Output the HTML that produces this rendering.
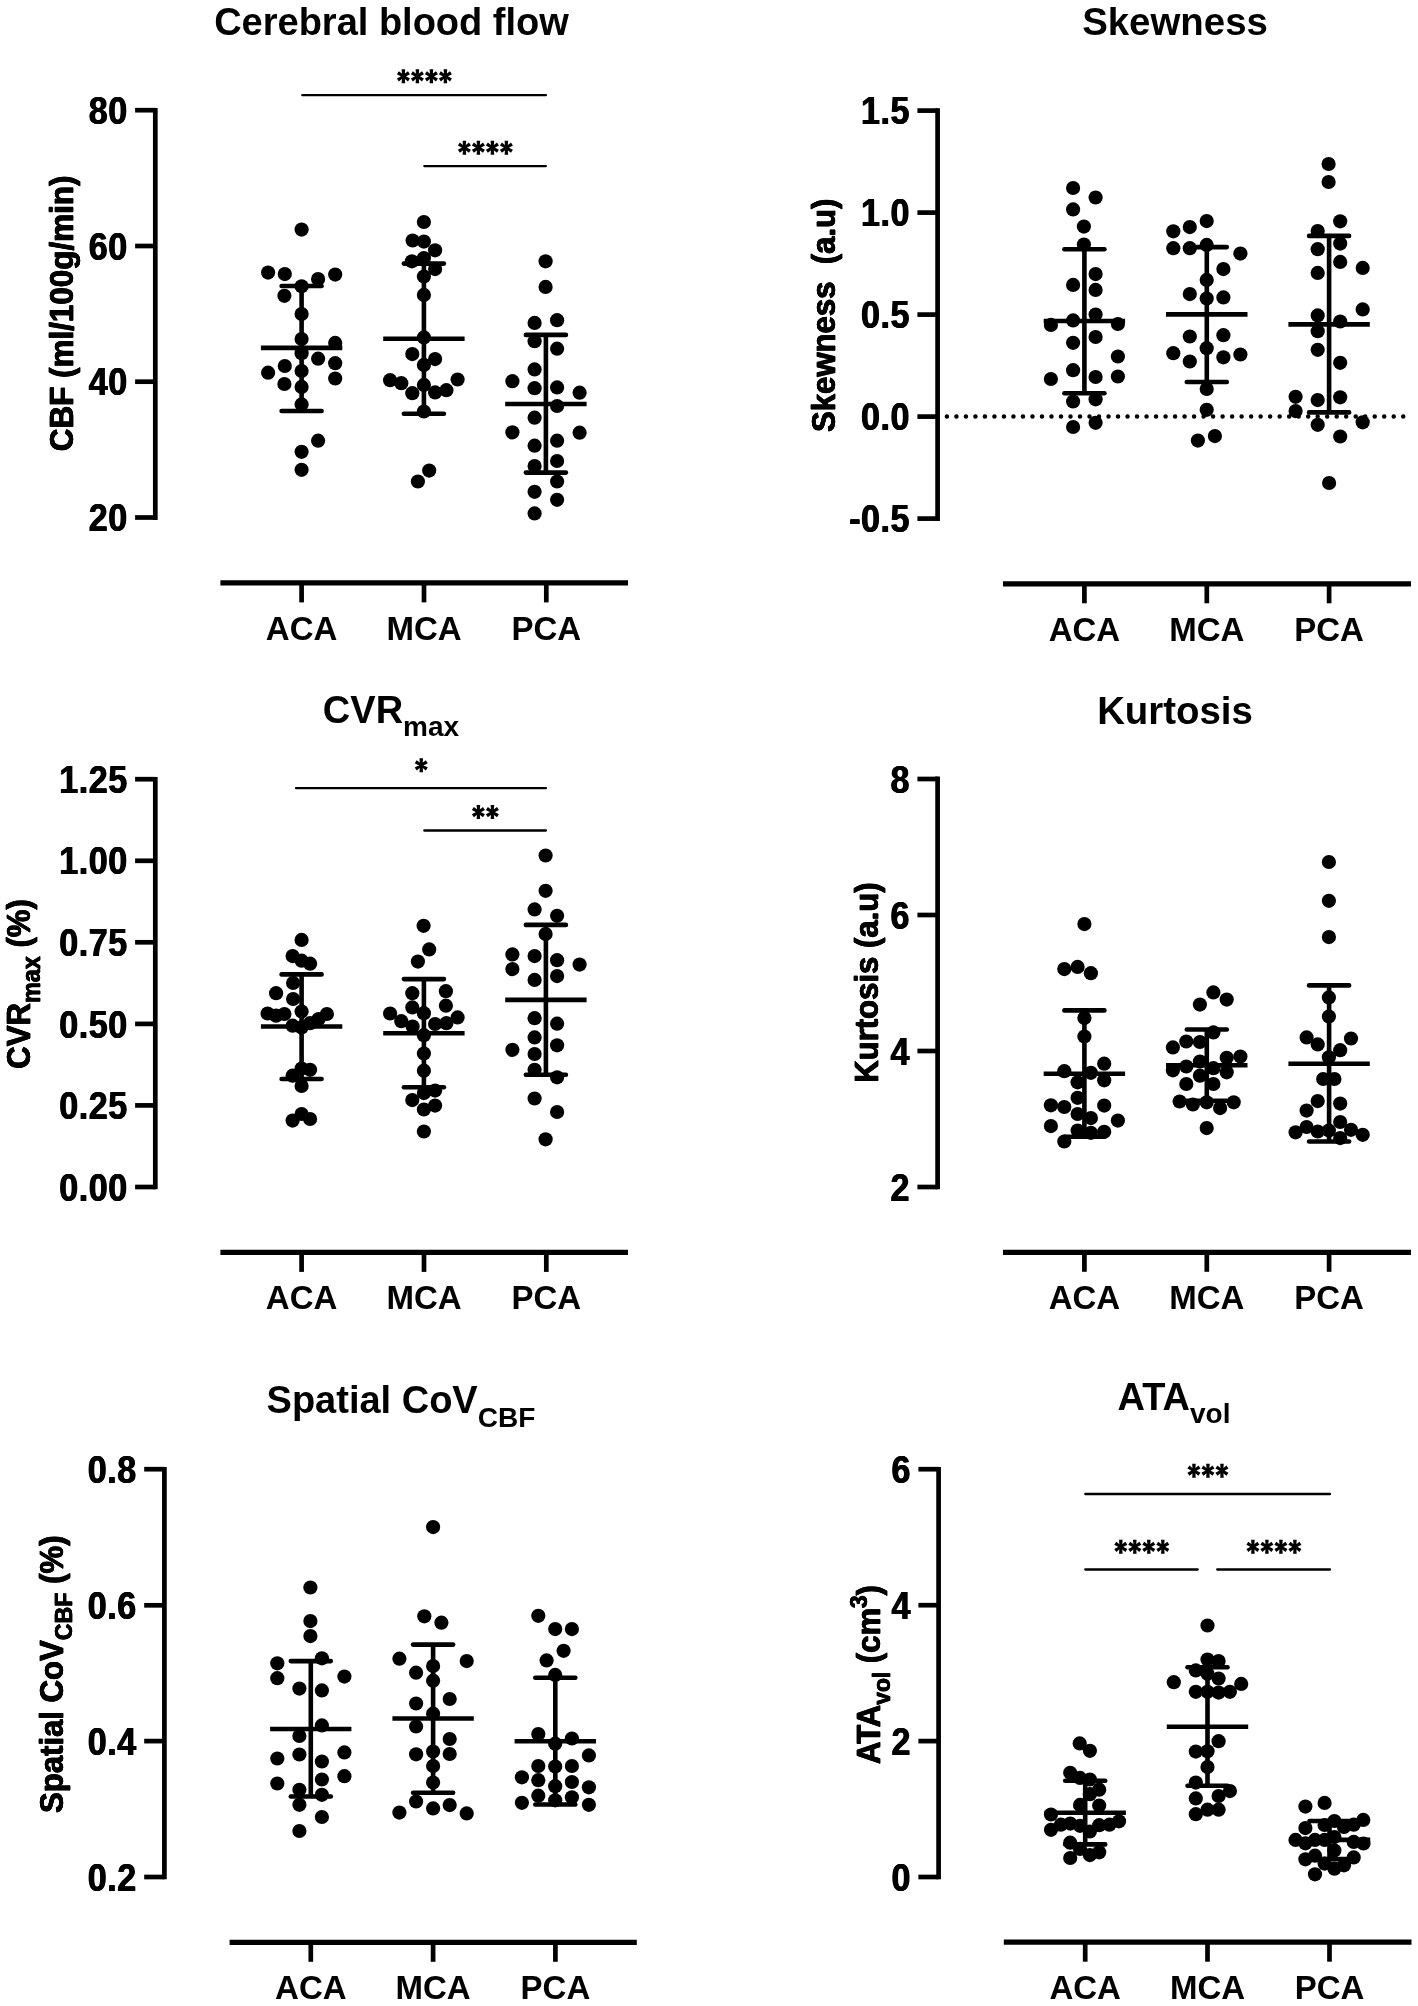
<!DOCTYPE html>
<html><head><meta charset="utf-8"><title>Figure</title>
<style>html,body{margin:0;padding:0;background:#fff;}svg{display:block;will-change:transform;}</style>
</head><body>
<svg width="1418" height="2006" viewBox="0 0 1418 2006">
<rect width="1418" height="2006" fill="#fff"/>
<text x="391.5" y="35" font-size="38" text-anchor="middle" font-family="Liberation Sans, sans-serif" font-weight="bold" >Cerebral blood flow</text>
<g stroke="#000" stroke-width="4.7" fill="none">
<line x1="155.3" y1="107.9" x2="155.3" y2="519.9"/>
<line x1="135.1" y1="110.2" x2="155.3" y2="110.2"/>
<line x1="135.1" y1="246.0" x2="155.3" y2="246.0"/>
<line x1="135.1" y1="381.7" x2="155.3" y2="381.7"/>
<line x1="135.1" y1="517.5" x2="155.3" y2="517.5"/>
</g>
<g transform="translate(127.70,123.8) scale(0.885,1)" font-size="38.5" text-anchor="end" letter-spacing="0.6" font-family="Liberation Sans, sans-serif" font-weight="bold"><text x="-0.56">80</text><text x="0.00">80</text><text x="0.56">80</text></g>
<g transform="translate(127.70,259.6) scale(0.885,1)" font-size="38.5" text-anchor="end" letter-spacing="0.6" font-family="Liberation Sans, sans-serif" font-weight="bold"><text x="-0.56">60</text><text x="0.00">60</text><text x="0.56">60</text></g>
<g transform="translate(127.70,395.3) scale(0.885,1)" font-size="38.5" text-anchor="end" letter-spacing="0.6" font-family="Liberation Sans, sans-serif" font-weight="bold"><text x="-0.56">40</text><text x="0.00">40</text><text x="0.56">40</text></g>
<g transform="translate(127.70,531.1) scale(0.885,1)" font-size="38.5" text-anchor="end" letter-spacing="0.6" font-family="Liberation Sans, sans-serif" font-weight="bold"><text x="-0.56">20</text><text x="0.00">20</text><text x="0.56">20</text></g>
<g stroke="#000" stroke-width="5.2" fill="none">
<line x1="220.4" y1="582.9" x2="628" y2="582.9"/>
<line x1="301.6" y1="582.9" x2="301.6" y2="602.4" stroke-width="4.7"/>
<line x1="424" y1="582.9" x2="424" y2="602.4" stroke-width="4.7"/>
<line x1="546.3" y1="582.9" x2="546.3" y2="602.4" stroke-width="4.7"/>
</g>
<text x="301.6" y="639.6" font-size="33" text-anchor="middle" font-family="Liberation Sans, sans-serif" font-weight="bold">ACA</text>
<text x="424" y="639.6" font-size="33" text-anchor="middle" font-family="Liberation Sans, sans-serif" font-weight="bold">MCA</text>
<text x="546.3" y="639.6" font-size="33" text-anchor="middle" font-family="Liberation Sans, sans-serif" font-weight="bold">PCA</text>
<g transform="translate(72.5,313.4) rotate(-90) scale(0.9390,1)" font-size="33.46" text-anchor="middle" stroke="#000" stroke-width="0.35" stroke-linejoin="round" font-family="Liberation Sans, sans-serif" font-weight="bold" ><text x="-0.32">CBF (ml/100g/min)</text><text x="0.00">CBF (ml/100g/min)</text><text x="0.32">CBF (ml/100g/min)</text></g>
<line x1="302.3" y1="95.2" x2="545.9" y2="95.2" stroke="#000" stroke-width="2.3" stroke-linecap="round"/>
<path d="M402.10 75.50L401.60 69.30L405.20 69.30L404.70 75.50ZM404.70 77.10L405.20 83.30L401.60 83.30L402.10 77.10ZM403.36 74.77L407.95 71.20L409.92 74.21L404.78 76.95ZM402.02 76.95L396.88 74.21L398.85 71.20L403.44 74.77ZM404.78 75.65L409.92 78.39L407.95 81.40L403.36 77.83ZM403.44 77.83L398.85 81.40L396.88 78.39L402.02 75.65Z" fill="#000"/><circle cx="403.40" cy="76.30" r="2.2" fill="#000"/>
<path d="M416.10 75.50L415.60 69.30L419.20 69.30L418.70 75.50ZM418.70 77.10L419.20 83.30L415.60 83.30L416.10 77.10ZM417.36 74.77L421.95 71.20L423.92 74.21L418.78 76.95ZM416.02 76.95L410.88 74.21L412.85 71.20L417.44 74.77ZM418.78 75.65L423.92 78.39L421.95 81.40L417.36 77.83ZM417.44 77.83L412.85 81.40L410.88 78.39L416.02 75.65Z" fill="#000"/><circle cx="417.40" cy="76.30" r="2.2" fill="#000"/>
<path d="M430.10 75.50L429.60 69.30L433.20 69.30L432.70 75.50ZM432.70 77.10L433.20 83.30L429.60 83.30L430.10 77.10ZM431.36 74.77L435.95 71.20L437.92 74.21L432.78 76.95ZM430.02 76.95L424.88 74.21L426.85 71.20L431.44 74.77ZM432.78 75.65L437.92 78.39L435.95 81.40L431.36 77.83ZM431.44 77.83L426.85 81.40L424.88 78.39L430.02 75.65Z" fill="#000"/><circle cx="431.40" cy="76.30" r="2.2" fill="#000"/>
<path d="M444.10 75.50L443.60 69.30L447.20 69.30L446.70 75.50ZM446.70 77.10L447.20 83.30L443.60 83.30L444.10 77.10ZM445.36 74.77L449.95 71.20L451.92 74.21L446.78 76.95ZM444.02 76.95L438.88 74.21L440.85 71.20L445.44 74.77ZM446.78 75.65L451.92 78.39L449.95 81.40L445.36 77.83ZM445.44 77.83L440.85 81.40L438.88 78.39L444.02 75.65Z" fill="#000"/><circle cx="445.40" cy="76.30" r="2.2" fill="#000"/>
<line x1="424.3" y1="166.1" x2="545.9" y2="166.1" stroke="#000" stroke-width="2.3" stroke-linecap="round"/>
<path d="M463.10 146.90L462.60 140.70L466.20 140.70L465.70 146.90ZM465.70 148.50L466.20 154.70L462.60 154.70L463.10 148.50ZM464.36 146.17L468.95 142.60L470.92 145.61L465.78 148.35ZM463.02 148.35L457.88 145.61L459.85 142.60L464.44 146.17ZM465.78 147.05L470.92 149.79L468.95 152.80L464.36 149.23ZM464.44 149.23L459.85 152.80L457.88 149.79L463.02 147.05Z" fill="#000"/><circle cx="464.40" cy="147.70" r="2.2" fill="#000"/>
<path d="M477.10 146.90L476.60 140.70L480.20 140.70L479.70 146.90ZM479.70 148.50L480.20 154.70L476.60 154.70L477.10 148.50ZM478.36 146.17L482.95 142.60L484.92 145.61L479.78 148.35ZM477.02 148.35L471.88 145.61L473.85 142.60L478.44 146.17ZM479.78 147.05L484.92 149.79L482.95 152.80L478.36 149.23ZM478.44 149.23L473.85 152.80L471.88 149.79L477.02 147.05Z" fill="#000"/><circle cx="478.40" cy="147.70" r="2.2" fill="#000"/>
<path d="M491.10 146.90L490.60 140.70L494.20 140.70L493.70 146.90ZM493.70 148.50L494.20 154.70L490.60 154.70L491.10 148.50ZM492.36 146.17L496.95 142.60L498.92 145.61L493.78 148.35ZM491.02 148.35L485.88 145.61L487.85 142.60L492.44 146.17ZM493.78 147.05L498.92 149.79L496.95 152.80L492.36 149.23ZM492.44 149.23L487.85 152.80L485.88 149.79L491.02 147.05Z" fill="#000"/><circle cx="492.40" cy="147.70" r="2.2" fill="#000"/>
<path d="M505.10 146.90L504.60 140.70L508.20 140.70L507.70 146.90ZM507.70 148.50L508.20 154.70L504.60 154.70L505.10 148.50ZM506.36 146.17L510.95 142.60L512.92 145.61L507.78 148.35ZM505.02 148.35L499.88 145.61L501.85 142.60L506.44 146.17ZM507.78 147.05L512.92 149.79L510.95 152.80L506.36 149.23ZM506.44 149.23L501.85 152.80L499.88 149.79L505.02 147.05Z" fill="#000"/><circle cx="506.40" cy="147.70" r="2.2" fill="#000"/>
<g stroke="#000" stroke-width="4.6" fill="none">
<line x1="260.9" y1="347.9" x2="342.3" y2="347.9"/>
<line x1="301.6" y1="286.0" x2="301.6" y2="411.0"/>
<line x1="281.6" y1="286.0" x2="321.6" y2="286.0" stroke-linecap="round"/>
<line x1="281.6" y1="411.0" x2="321.6" y2="411.0" stroke-linecap="round"/>
</g>
<g fill="#000">
<circle cx="301.6" cy="229.6" r="7.1"/>
<circle cx="268.1" cy="272.6" r="7.1"/>
<circle cx="284.8" cy="274.1" r="7.1"/>
<circle cx="318.1" cy="279.1" r="7.1"/>
<circle cx="335.2" cy="274.6" r="7.1"/>
<circle cx="301.6" cy="286.3" r="7.1"/>
<circle cx="284.4" cy="295.8" r="7.1"/>
<circle cx="301.6" cy="314.1" r="7.1"/>
<circle cx="301.6" cy="339.1" r="7.1"/>
<circle cx="335.2" cy="342.9" r="7.1"/>
<circle cx="301.6" cy="353.2" r="7.1"/>
<circle cx="318.1" cy="358.7" r="7.1"/>
<circle cx="335.2" cy="363.2" r="7.1"/>
<circle cx="284.8" cy="366.0" r="7.1"/>
<circle cx="301.6" cy="371.0" r="7.1"/>
<circle cx="268.1" cy="372.7" r="7.1"/>
<circle cx="335.2" cy="378.5" r="7.1"/>
<circle cx="284.4" cy="384.0" r="7.1"/>
<circle cx="301.6" cy="386.9" r="7.1"/>
<circle cx="301.6" cy="404.4" r="7.1"/>
<circle cx="318.1" cy="440.7" r="7.1"/>
<circle cx="301.6" cy="451.8" r="7.1"/>
<circle cx="301.6" cy="469.8" r="7.1"/>
</g>
<g stroke="#000" stroke-width="4.6" fill="none">
<line x1="383.2" y1="338.7" x2="464.6" y2="338.7"/>
<line x1="423.9" y1="263.6" x2="423.9" y2="413.7"/>
<line x1="403.9" y1="263.6" x2="443.9" y2="263.6" stroke-linecap="round"/>
<line x1="403.9" y1="413.7" x2="443.9" y2="413.7" stroke-linecap="round"/>
</g>
<g fill="#000">
<circle cx="423.9" cy="222.0" r="7.1"/>
<circle cx="412.6" cy="240.5" r="7.1"/>
<circle cx="423.9" cy="241.6" r="7.1"/>
<circle cx="435.1" cy="250.3" r="7.1"/>
<circle cx="423.9" cy="258.0" r="7.1"/>
<circle cx="411.9" cy="261.3" r="7.1"/>
<circle cx="435.1" cy="269.1" r="7.1"/>
<circle cx="423.9" cy="276.6" r="7.1"/>
<circle cx="423.9" cy="294.9" r="7.1"/>
<circle cx="423.9" cy="337.4" r="7.1"/>
<circle cx="412.3" cy="354.1" r="7.1"/>
<circle cx="435.1" cy="359.1" r="7.1"/>
<circle cx="423.9" cy="364.9" r="7.1"/>
<circle cx="390.1" cy="380.2" r="7.1"/>
<circle cx="401.3" cy="383.2" r="7.1"/>
<circle cx="457.6" cy="379.5" r="7.1"/>
<circle cx="423.9" cy="384.9" r="7.1"/>
<circle cx="446.4" cy="390.2" r="7.1"/>
<circle cx="435.1" cy="392.4" r="7.1"/>
<circle cx="412.3" cy="393.2" r="7.1"/>
<circle cx="423.9" cy="411.5" r="7.1"/>
<circle cx="429.2" cy="470.6" r="7.1"/>
<circle cx="417.9" cy="481.5" r="7.1"/>
</g>
<g stroke="#000" stroke-width="4.6" fill="none">
<line x1="505.2" y1="404.0" x2="586.6" y2="404.0"/>
<line x1="545.9" y1="334.9" x2="545.9" y2="472.6"/>
<line x1="525.9" y1="334.9" x2="565.9" y2="334.9" stroke-linecap="round"/>
<line x1="525.9" y1="472.6" x2="565.9" y2="472.6" stroke-linecap="round"/>
</g>
<g fill="#000">
<circle cx="545.6" cy="261.3" r="7.1"/>
<circle cx="545.6" cy="286.9" r="7.1"/>
<circle cx="534.6" cy="322.9" r="7.1"/>
<circle cx="557.1" cy="320.2" r="7.1"/>
<circle cx="534.6" cy="341.2" r="7.1"/>
<circle cx="557.1" cy="348.7" r="7.1"/>
<circle cx="534.6" cy="369.4" r="7.1"/>
<circle cx="512.4" cy="381.2" r="7.1"/>
<circle cx="534.6" cy="388.2" r="7.1"/>
<circle cx="557.1" cy="387.4" r="7.1"/>
<circle cx="579.6" cy="392.7" r="7.1"/>
<circle cx="557.1" cy="406.0" r="7.1"/>
<circle cx="534.6" cy="417.7" r="7.1"/>
<circle cx="512.4" cy="432.3" r="7.1"/>
<circle cx="579.6" cy="432.7" r="7.1"/>
<circle cx="557.1" cy="440.7" r="7.1"/>
<circle cx="534.6" cy="445.7" r="7.1"/>
<circle cx="557.1" cy="461.0" r="7.1"/>
<circle cx="534.6" cy="466.0" r="7.1"/>
<circle cx="557.1" cy="481.5" r="7.1"/>
<circle cx="534.6" cy="491.8" r="7.1"/>
<circle cx="557.1" cy="499.8" r="7.1"/>
<circle cx="534.6" cy="513.4" r="7.1"/>
</g>
<text x="1175" y="35" font-size="38.4" text-anchor="middle" font-family="Liberation Sans, sans-serif" font-weight="bold" >Skewness</text>
<g stroke="#000" stroke-width="4.7" fill="none">
<line x1="937.6" y1="108.2" x2="937.6" y2="521.0"/>
<line x1="917.4" y1="110.6" x2="937.6" y2="110.6"/>
<line x1="917.4" y1="212.6" x2="937.6" y2="212.6"/>
<line x1="917.4" y1="314.6" x2="937.6" y2="314.6"/>
<line x1="917.4" y1="416.6" x2="937.6" y2="416.6"/>
<line x1="917.4" y1="518.6" x2="937.6" y2="518.6"/>
</g>
<g transform="translate(910.00,124.2) scale(0.885,1)" font-size="38.5" text-anchor="end" letter-spacing="0.6" font-family="Liberation Sans, sans-serif" font-weight="bold"><text x="-0.56">1.5</text><text x="0.00">1.5</text><text x="0.56">1.5</text></g>
<g transform="translate(910.00,226.2) scale(0.885,1)" font-size="38.5" text-anchor="end" letter-spacing="0.6" font-family="Liberation Sans, sans-serif" font-weight="bold"><text x="-0.56">1.0</text><text x="0.00">1.0</text><text x="0.56">1.0</text></g>
<g transform="translate(910.00,328.2) scale(0.885,1)" font-size="38.5" text-anchor="end" letter-spacing="0.6" font-family="Liberation Sans, sans-serif" font-weight="bold"><text x="-0.56">0.5</text><text x="0.00">0.5</text><text x="0.56">0.5</text></g>
<g transform="translate(910.00,430.2) scale(0.885,1)" font-size="38.5" text-anchor="end" letter-spacing="0.6" font-family="Liberation Sans, sans-serif" font-weight="bold"><text x="-0.56">0.0</text><text x="0.00">0.0</text><text x="0.56">0.0</text></g>
<g transform="translate(910.00,532.2) scale(0.885,1)" font-size="38.5" text-anchor="end" letter-spacing="0.6" font-family="Liberation Sans, sans-serif" font-weight="bold"><text x="-0.56">-0.5</text><text x="0.00">-0.5</text><text x="0.56">-0.5</text></g>
<g stroke="#000" stroke-width="5.2" fill="none">
<line x1="1003" y1="583.8" x2="1411" y2="583.8"/>
<line x1="1084.4" y1="583.8" x2="1084.4" y2="603.3" stroke-width="4.7"/>
<line x1="1206.8" y1="583.8" x2="1206.8" y2="603.3" stroke-width="4.7"/>
<line x1="1329.1" y1="583.8" x2="1329.1" y2="603.3" stroke-width="4.7"/>
</g>
<text x="1084.4" y="640.5" font-size="33" text-anchor="middle" font-family="Liberation Sans, sans-serif" font-weight="bold">ACA</text>
<text x="1206.8" y="640.5" font-size="33" text-anchor="middle" font-family="Liberation Sans, sans-serif" font-weight="bold">MCA</text>
<text x="1329.1" y="640.5" font-size="33" text-anchor="middle" font-family="Liberation Sans, sans-serif" font-weight="bold">PCA</text>
<g transform="translate(835,315.3) rotate(-90) scale(0.9390,1)" font-size="33.14" text-anchor="middle" stroke="#000" stroke-width="0.35" stroke-linejoin="round" font-family="Liberation Sans, sans-serif" font-weight="bold" ><text x="-0.32">Skewness&#160;&#160;(a.u)</text><text x="0.00">Skewness&#160;&#160;(a.u)</text><text x="0.32">Skewness&#160;&#160;(a.u)</text></g>
<line x1="946.9" y1="416.6" x2="1403.4" y2="416.6" stroke="#000" stroke-width="4.5" stroke-linecap="round" stroke-dasharray="0 9.507"/>
<g stroke="#000" stroke-width="4.6" fill="none">
<line x1="1043.7" y1="321.0" x2="1125.1" y2="321.0"/>
<line x1="1084.4" y1="249.3" x2="1084.4" y2="393.2"/>
<line x1="1064.4" y1="249.3" x2="1104.4" y2="249.3" stroke-linecap="round"/>
<line x1="1064.4" y1="393.2" x2="1104.4" y2="393.2" stroke-linecap="round"/>
</g>
<g fill="#000">
<circle cx="1073.1" cy="188.0" r="7.1"/>
<circle cx="1095.6" cy="197.5" r="7.1"/>
<circle cx="1073.1" cy="209.4" r="7.1"/>
<circle cx="1083.9" cy="226.6" r="7.1"/>
<circle cx="1083.9" cy="244.6" r="7.1"/>
<circle cx="1095.6" cy="274.1" r="7.1"/>
<circle cx="1073.1" cy="284.9" r="7.1"/>
<circle cx="1095.6" cy="289.9" r="7.1"/>
<circle cx="1095.6" cy="314.5" r="7.1"/>
<circle cx="1073.1" cy="320.4" r="7.1"/>
<circle cx="1050.9" cy="324.9" r="7.1"/>
<circle cx="1117.9" cy="324.0" r="7.1"/>
<circle cx="1095.6" cy="337.0" r="7.1"/>
<circle cx="1073.1" cy="342.8" r="7.1"/>
<circle cx="1117.9" cy="356.5" r="7.1"/>
<circle cx="1073.1" cy="370.2" r="7.1"/>
<circle cx="1095.6" cy="377.0" r="7.1"/>
<circle cx="1117.9" cy="376.5" r="7.1"/>
<circle cx="1050.9" cy="379.0" r="7.1"/>
<circle cx="1073.1" cy="401.5" r="7.1"/>
<circle cx="1095.6" cy="399.3" r="7.1"/>
<circle cx="1073.1" cy="427.0" r="7.1"/>
<circle cx="1095.6" cy="422.8" r="7.1"/>
</g>
<g stroke="#000" stroke-width="4.6" fill="none">
<line x1="1166.0" y1="314.4" x2="1247.5" y2="314.4"/>
<line x1="1206.8" y1="247.1" x2="1206.8" y2="382.0"/>
<line x1="1186.8" y1="247.1" x2="1226.8" y2="247.1" stroke-linecap="round"/>
<line x1="1186.8" y1="382.0" x2="1226.8" y2="382.0" stroke-linecap="round"/>
</g>
<g fill="#000">
<circle cx="1206.7" cy="221.1" r="7.1"/>
<circle cx="1189.8" cy="227.1" r="7.1"/>
<circle cx="1173.3" cy="231.3" r="7.1"/>
<circle cx="1206.7" cy="244.9" r="7.1"/>
<circle cx="1189.8" cy="248.2" r="7.1"/>
<circle cx="1173.3" cy="248.2" r="7.1"/>
<circle cx="1240.4" cy="253.6" r="7.1"/>
<circle cx="1223.4" cy="269.1" r="7.1"/>
<circle cx="1206.7" cy="279.9" r="7.1"/>
<circle cx="1189.8" cy="294.1" r="7.1"/>
<circle cx="1223.4" cy="297.4" r="7.1"/>
<circle cx="1206.7" cy="298.5" r="7.1"/>
<circle cx="1189.8" cy="336.5" r="7.1"/>
<circle cx="1223.4" cy="335.2" r="7.1"/>
<circle cx="1206.7" cy="348.2" r="7.1"/>
<circle cx="1173.3" cy="353.2" r="7.1"/>
<circle cx="1240.4" cy="354.5" r="7.1"/>
<circle cx="1223.4" cy="357.3" r="7.1"/>
<circle cx="1189.8" cy="361.5" r="7.1"/>
<circle cx="1206.7" cy="389.0" r="7.1"/>
<circle cx="1206.7" cy="409.8" r="7.1"/>
<circle cx="1214.9" cy="436.1" r="7.1"/>
<circle cx="1197.9" cy="440.6" r="7.1"/>
</g>
<g stroke="#000" stroke-width="4.6" fill="none">
<line x1="1288.4" y1="324.4" x2="1369.8" y2="324.4"/>
<line x1="1329.1" y1="235.9" x2="1329.1" y2="412.4"/>
<line x1="1309.1" y1="235.9" x2="1349.1" y2="235.9" stroke-linecap="round"/>
<line x1="1309.1" y1="412.4" x2="1349.1" y2="412.4" stroke-linecap="round"/>
</g>
<g fill="#000">
<circle cx="1328.6" cy="164.0" r="7.1"/>
<circle cx="1328.6" cy="182.0" r="7.1"/>
<circle cx="1340.2" cy="221.3" r="7.1"/>
<circle cx="1317.7" cy="231.1" r="7.1"/>
<circle cx="1340.2" cy="243.6" r="7.1"/>
<circle cx="1317.7" cy="249.2" r="7.1"/>
<circle cx="1340.2" cy="261.9" r="7.1"/>
<circle cx="1362.7" cy="267.9" r="7.1"/>
<circle cx="1317.7" cy="272.9" r="7.1"/>
<circle cx="1362.7" cy="309.4" r="7.1"/>
<circle cx="1317.7" cy="315.4" r="7.1"/>
<circle cx="1340.2" cy="321.5" r="7.1"/>
<circle cx="1317.7" cy="331.2" r="7.1"/>
<circle cx="1317.7" cy="349.8" r="7.1"/>
<circle cx="1340.2" cy="362.8" r="7.1"/>
<circle cx="1295.6" cy="396.8" r="7.1"/>
<circle cx="1340.2" cy="397.3" r="7.1"/>
<circle cx="1317.7" cy="400.1" r="7.1"/>
<circle cx="1295.6" cy="411.1" r="7.1"/>
<circle cx="1317.7" cy="424.8" r="7.1"/>
<circle cx="1362.7" cy="422.3" r="7.1"/>
<circle cx="1340.2" cy="436.5" r="7.1"/>
<circle cx="1329.1" cy="483" r="7.1"/>
</g>
<text x="391" y="722.5" text-anchor="middle" font-family="Liberation Sans, sans-serif" font-weight="bold"><tspan font-size="38" dy="0.00">CVR</tspan><tspan font-size="28" dy="13.40">max</tspan></text>
<g transform="translate(30.4,1068.7) rotate(-90) scale(0.9390,1)" text-anchor="start" stroke="#000" stroke-width="0.35" stroke-linejoin="round" font-family="Liberation Sans, sans-serif" font-weight="bold"><text x="-0.32"><tspan font-size="33.14" dy="0.00">CVR</tspan><tspan font-size="24.94" dy="10.00">max</tspan><tspan font-size="33.14" dy="-10.00"> (%)</tspan></text><text x="0.00"><tspan font-size="33.14" dy="0.00">CVR</tspan><tspan font-size="24.94" dy="10.00">max</tspan><tspan font-size="33.14" dy="-10.00"> (%)</tspan></text><text x="0.32"><tspan font-size="33.14" dy="0.00">CVR</tspan><tspan font-size="24.94" dy="10.00">max</tspan><tspan font-size="33.14" dy="-10.00"> (%)</tspan></text></g>
<g stroke="#000" stroke-width="4.7" fill="none">
<line x1="155.3" y1="776.9" x2="155.3" y2="1189.3"/>
<line x1="135.1" y1="779.2" x2="155.3" y2="779.2"/>
<line x1="135.1" y1="860.8" x2="155.3" y2="860.8"/>
<line x1="135.1" y1="942.3" x2="155.3" y2="942.3"/>
<line x1="135.1" y1="1023.9" x2="155.3" y2="1023.9"/>
<line x1="135.1" y1="1105.4" x2="155.3" y2="1105.4"/>
<line x1="135.1" y1="1187.0" x2="155.3" y2="1187.0"/>
</g>
<g transform="translate(127.70,792.8) scale(0.885,1)" font-size="38.5" text-anchor="end" letter-spacing="0.6" font-family="Liberation Sans, sans-serif" font-weight="bold"><text x="-0.56">1.25</text><text x="0.00">1.25</text><text x="0.56">1.25</text></g>
<g transform="translate(127.70,874.4) scale(0.885,1)" font-size="38.5" text-anchor="end" letter-spacing="0.6" font-family="Liberation Sans, sans-serif" font-weight="bold"><text x="-0.56">1.00</text><text x="0.00">1.00</text><text x="0.56">1.00</text></g>
<g transform="translate(127.70,955.9) scale(0.885,1)" font-size="38.5" text-anchor="end" letter-spacing="0.6" font-family="Liberation Sans, sans-serif" font-weight="bold"><text x="-0.56">0.75</text><text x="0.00">0.75</text><text x="0.56">0.75</text></g>
<g transform="translate(127.70,1037.5) scale(0.885,1)" font-size="38.5" text-anchor="end" letter-spacing="0.6" font-family="Liberation Sans, sans-serif" font-weight="bold"><text x="-0.56">0.50</text><text x="0.00">0.50</text><text x="0.56">0.50</text></g>
<g transform="translate(127.70,1119.0) scale(0.885,1)" font-size="38.5" text-anchor="end" letter-spacing="0.6" font-family="Liberation Sans, sans-serif" font-weight="bold"><text x="-0.56">0.25</text><text x="0.00">0.25</text><text x="0.56">0.25</text></g>
<g transform="translate(127.70,1200.6) scale(0.885,1)" font-size="38.5" text-anchor="end" letter-spacing="0.6" font-family="Liberation Sans, sans-serif" font-weight="bold"><text x="-0.56">0.00</text><text x="0.00">0.00</text><text x="0.56">0.00</text></g>
<g stroke="#000" stroke-width="5.2" fill="none">
<line x1="220.4" y1="1252.4" x2="628" y2="1252.4"/>
<line x1="301.6" y1="1252.4" x2="301.6" y2="1271.9" stroke-width="4.7"/>
<line x1="424" y1="1252.4" x2="424" y2="1271.9" stroke-width="4.7"/>
<line x1="546.3" y1="1252.4" x2="546.3" y2="1271.9" stroke-width="4.7"/>
</g>
<text x="301.6" y="1309.1" font-size="33" text-anchor="middle" font-family="Liberation Sans, sans-serif" font-weight="bold">ACA</text>
<text x="424" y="1309.1" font-size="33" text-anchor="middle" font-family="Liberation Sans, sans-serif" font-weight="bold">MCA</text>
<text x="546.3" y="1309.1" font-size="33" text-anchor="middle" font-family="Liberation Sans, sans-serif" font-weight="bold">PCA</text>
<line x1="296.0" y1="788.2" x2="545.9" y2="788.2" stroke="#000" stroke-width="2.3" stroke-linecap="round"/>
<path d="M419.95 764.50L419.45 758.30L423.05 758.30L422.55 764.50ZM422.55 766.10L423.05 772.30L419.45 772.30L419.95 766.10ZM421.21 763.77L425.80 760.20L427.77 763.21L422.63 765.95ZM419.87 765.95L414.73 763.21L416.70 760.20L421.29 763.77ZM422.63 764.65L427.77 767.39L425.80 770.40L421.21 766.83ZM421.29 766.83L416.70 770.40L414.73 767.39L419.87 764.65Z" fill="#000"/><circle cx="421.25" cy="765.30" r="2.2" fill="#000"/>
<line x1="424.3" y1="830.5" x2="545.9" y2="830.5" stroke="#000" stroke-width="2.3" stroke-linecap="round"/>
<path d="M477.10 811.30L476.60 805.10L480.20 805.10L479.70 811.30ZM479.70 812.90L480.20 819.10L476.60 819.10L477.10 812.90ZM478.36 810.57L482.95 807.00L484.92 810.01L479.78 812.75ZM477.02 812.75L471.88 810.01L473.85 807.00L478.44 810.57ZM479.78 811.45L484.92 814.19L482.95 817.20L478.36 813.63ZM478.44 813.63L473.85 817.20L471.88 814.19L477.02 811.45Z" fill="#000"/><circle cx="478.40" cy="812.10" r="2.2" fill="#000"/>
<path d="M491.10 811.30L490.60 805.10L494.20 805.10L493.70 811.30ZM493.70 812.90L494.20 819.10L490.60 819.10L491.10 812.90ZM492.36 810.57L496.95 807.00L498.92 810.01L493.78 812.75ZM491.02 812.75L485.88 810.01L487.85 807.00L492.44 810.57ZM493.78 811.45L498.92 814.19L496.95 817.20L492.36 813.63ZM492.44 813.63L487.85 817.20L485.88 814.19L491.02 811.45Z" fill="#000"/><circle cx="492.40" cy="812.10" r="2.2" fill="#000"/>
<g stroke="#000" stroke-width="4.6" fill="none">
<line x1="260.9" y1="1026.5" x2="342.3" y2="1026.5"/>
<line x1="301.6" y1="974.4" x2="301.6" y2="1079.0"/>
<line x1="281.6" y1="974.4" x2="321.6" y2="974.4" stroke-linecap="round"/>
<line x1="281.6" y1="1079.0" x2="321.6" y2="1079.0" stroke-linecap="round"/>
</g>
<g fill="#000">
<circle cx="301.6" cy="939.9" r="7.1"/>
<circle cx="292.6" cy="956.1" r="7.1"/>
<circle cx="301.6" cy="960.7" r="7.1"/>
<circle cx="310.1" cy="963.7" r="7.1"/>
<circle cx="293.1" cy="982.9" r="7.1"/>
<circle cx="276.1" cy="993.2" r="7.1"/>
<circle cx="293.1" cy="999.0" r="7.1"/>
<circle cx="301.6" cy="1011.5" r="7.1"/>
<circle cx="267.6" cy="1013.5" r="7.1"/>
<circle cx="276.1" cy="1015.7" r="7.1"/>
<circle cx="284.4" cy="1014.0" r="7.1"/>
<circle cx="326.9" cy="1014.0" r="7.1"/>
<circle cx="318.6" cy="1019.0" r="7.1"/>
<circle cx="310.1" cy="1023.2" r="7.1"/>
<circle cx="292.6" cy="1025.7" r="7.1"/>
<circle cx="301.6" cy="1027.4" r="7.1"/>
<circle cx="301.6" cy="1068.5" r="7.1"/>
<circle cx="310.1" cy="1069.8" r="7.1"/>
<circle cx="292.6" cy="1075.7" r="7.1"/>
<circle cx="301.6" cy="1086.0" r="7.1"/>
<circle cx="301.6" cy="1114.0" r="7.1"/>
<circle cx="292.6" cy="1120.6" r="7.1"/>
<circle cx="310.1" cy="1119.0" r="7.1"/>
</g>
<g stroke="#000" stroke-width="4.6" fill="none">
<line x1="383.2" y1="1033.2" x2="464.6" y2="1033.2"/>
<line x1="423.9" y1="979.1" x2="423.9" y2="1087.3"/>
<line x1="403.9" y1="979.1" x2="443.9" y2="979.1" stroke-linecap="round"/>
<line x1="403.9" y1="1087.3" x2="443.9" y2="1087.3" stroke-linecap="round"/>
</g>
<g fill="#000">
<circle cx="423.6" cy="925.8" r="7.1"/>
<circle cx="429.2" cy="949.4" r="7.1"/>
<circle cx="417.9" cy="961.6" r="7.1"/>
<circle cx="412.3" cy="993.2" r="7.1"/>
<circle cx="445.9" cy="991.2" r="7.1"/>
<circle cx="412.3" cy="1007.4" r="7.1"/>
<circle cx="445.9" cy="1005.7" r="7.1"/>
<circle cx="423.9" cy="1013.2" r="7.1"/>
<circle cx="390.1" cy="1013.5" r="7.1"/>
<circle cx="457.6" cy="1017.4" r="7.1"/>
<circle cx="401.3" cy="1021.2" r="7.1"/>
<circle cx="446.4" cy="1023.2" r="7.1"/>
<circle cx="435.1" cy="1024.0" r="7.1"/>
<circle cx="412.6" cy="1026.5" r="7.1"/>
<circle cx="423.9" cy="1035.2" r="7.1"/>
<circle cx="423.9" cy="1053.5" r="7.1"/>
<circle cx="423.9" cy="1070.7" r="7.1"/>
<circle cx="435.1" cy="1090.6" r="7.1"/>
<circle cx="423.9" cy="1093.1" r="7.1"/>
<circle cx="412.3" cy="1100.1" r="7.1"/>
<circle cx="435.1" cy="1105.6" r="7.1"/>
<circle cx="423.9" cy="1109.5" r="7.1"/>
<circle cx="423.9" cy="1131.5" r="7.1"/>
</g>
<g stroke="#000" stroke-width="4.6" fill="none">
<line x1="505.2" y1="999.9" x2="586.6" y2="999.9"/>
<line x1="545.9" y1="924.9" x2="545.9" y2="1074.8"/>
<line x1="525.9" y1="924.9" x2="565.9" y2="924.9" stroke-linecap="round"/>
<line x1="525.9" y1="1074.8" x2="565.9" y2="1074.8" stroke-linecap="round"/>
</g>
<g fill="#000">
<circle cx="545.6" cy="855.5" r="7.1"/>
<circle cx="545.6" cy="890.8" r="7.1"/>
<circle cx="534.6" cy="909.4" r="7.1"/>
<circle cx="557.1" cy="915.8" r="7.1"/>
<circle cx="545.6" cy="934.1" r="7.1"/>
<circle cx="512.4" cy="954.4" r="7.1"/>
<circle cx="534.6" cy="956.1" r="7.1"/>
<circle cx="557.1" cy="960.2" r="7.1"/>
<circle cx="579.6" cy="964.6" r="7.1"/>
<circle cx="512.4" cy="969.1" r="7.1"/>
<circle cx="557.1" cy="976.1" r="7.1"/>
<circle cx="534.6" cy="979.9" r="7.1"/>
<circle cx="534.6" cy="1018.2" r="7.1"/>
<circle cx="557.1" cy="1023.7" r="7.1"/>
<circle cx="534.6" cy="1037.4" r="7.1"/>
<circle cx="557.1" cy="1045.3" r="7.1"/>
<circle cx="512.4" cy="1049.8" r="7.1"/>
<circle cx="534.6" cy="1054.0" r="7.1"/>
<circle cx="534.6" cy="1069.8" r="7.1"/>
<circle cx="557.1" cy="1077.3" r="7.1"/>
<circle cx="534.6" cy="1098.5" r="7.1"/>
<circle cx="557.1" cy="1112.0" r="7.1"/>
<circle cx="545.6" cy="1139.3" r="7.1"/>
</g>
<text x="1175" y="723.5" font-size="38.4" text-anchor="middle" font-family="Liberation Sans, sans-serif" font-weight="bold" >Kurtosis</text>
<g stroke="#000" stroke-width="4.7" fill="none">
<line x1="937.6" y1="776.6" x2="937.6" y2="1189.3"/>
<line x1="917.4" y1="779.0" x2="937.6" y2="779.0"/>
<line x1="917.4" y1="915.0" x2="937.6" y2="915.0"/>
<line x1="917.4" y1="1051.0" x2="937.6" y2="1051.0"/>
<line x1="917.4" y1="1187.0" x2="937.6" y2="1187.0"/>
</g>
<g transform="translate(910.00,792.6) scale(0.885,1)" font-size="38.5" text-anchor="end" letter-spacing="0.6" font-family="Liberation Sans, sans-serif" font-weight="bold"><text x="-0.56">8</text><text x="0.00">8</text><text x="0.56">8</text></g>
<g transform="translate(910.00,928.6) scale(0.885,1)" font-size="38.5" text-anchor="end" letter-spacing="0.6" font-family="Liberation Sans, sans-serif" font-weight="bold"><text x="-0.56">6</text><text x="0.00">6</text><text x="0.56">6</text></g>
<g transform="translate(910.00,1064.6) scale(0.885,1)" font-size="38.5" text-anchor="end" letter-spacing="0.6" font-family="Liberation Sans, sans-serif" font-weight="bold"><text x="-0.56">4</text><text x="0.00">4</text><text x="0.56">4</text></g>
<g transform="translate(910.00,1200.6) scale(0.885,1)" font-size="38.5" text-anchor="end" letter-spacing="0.6" font-family="Liberation Sans, sans-serif" font-weight="bold"><text x="-0.56">2</text><text x="0.00">2</text><text x="0.56">2</text></g>
<g stroke="#000" stroke-width="5.2" fill="none">
<line x1="1003" y1="1252.3" x2="1411" y2="1252.3"/>
<line x1="1084.4" y1="1252.3" x2="1084.4" y2="1271.8" stroke-width="4.7"/>
<line x1="1206.8" y1="1252.3" x2="1206.8" y2="1271.8" stroke-width="4.7"/>
<line x1="1329.1" y1="1252.3" x2="1329.1" y2="1271.8" stroke-width="4.7"/>
</g>
<text x="1084.4" y="1309.0" font-size="33" text-anchor="middle" font-family="Liberation Sans, sans-serif" font-weight="bold">ACA</text>
<text x="1206.8" y="1309.0" font-size="33" text-anchor="middle" font-family="Liberation Sans, sans-serif" font-weight="bold">MCA</text>
<text x="1329.1" y="1309.0" font-size="33" text-anchor="middle" font-family="Liberation Sans, sans-serif" font-weight="bold">PCA</text>
<g transform="translate(877.6,982.6) rotate(-90) scale(0.9390,1)" font-size="33.14" text-anchor="middle" stroke="#000" stroke-width="0.35" stroke-linejoin="round" font-family="Liberation Sans, sans-serif" font-weight="bold" ><text x="-0.32">Kurtosis (a.u)</text><text x="0.00">Kurtosis (a.u)</text><text x="0.32">Kurtosis (a.u)</text></g>
<g stroke="#000" stroke-width="4.6" fill="none">
<line x1="1043.7" y1="1073.7" x2="1125.1" y2="1073.7"/>
<line x1="1084.4" y1="1010.4" x2="1084.4" y2="1136.8"/>
<line x1="1064.4" y1="1010.4" x2="1104.4" y2="1010.4" stroke-linecap="round"/>
<line x1="1064.4" y1="1136.8" x2="1104.4" y2="1136.8" stroke-linecap="round"/>
</g>
<g fill="#000">
<circle cx="1084.4" cy="924.1" r="7.1"/>
<circle cx="1064.3" cy="969.1" r="7.1"/>
<circle cx="1077.6" cy="966.9" r="7.1"/>
<circle cx="1090.9" cy="973.2" r="7.1"/>
<circle cx="1084.4" cy="1017.9" r="7.1"/>
<circle cx="1084.4" cy="1036.5" r="7.1"/>
<circle cx="1104.2" cy="1063.7" r="7.1"/>
<circle cx="1064.3" cy="1071.2" r="7.1"/>
<circle cx="1090.9" cy="1072.8" r="7.1"/>
<circle cx="1077.6" cy="1082.3" r="7.1"/>
<circle cx="1104.2" cy="1080.3" r="7.1"/>
<circle cx="1077.6" cy="1097.8" r="7.1"/>
<circle cx="1050.9" cy="1105.3" r="7.1"/>
<circle cx="1064.3" cy="1107.0" r="7.1"/>
<circle cx="1104.2" cy="1105.6" r="7.1"/>
<circle cx="1077.6" cy="1114.0" r="7.1"/>
<circle cx="1090.9" cy="1118.1" r="7.1"/>
<circle cx="1117.9" cy="1120.6" r="7.1"/>
<circle cx="1050.9" cy="1126.1" r="7.1"/>
<circle cx="1077.6" cy="1130.6" r="7.1"/>
<circle cx="1090.9" cy="1132.8" r="7.1"/>
<circle cx="1104.2" cy="1131.8" r="7.1"/>
<circle cx="1064.3" cy="1141.5" r="7.1"/>
</g>
<g stroke="#000" stroke-width="4.6" fill="none">
<line x1="1166.0" y1="1065.2" x2="1247.5" y2="1065.2"/>
<line x1="1206.8" y1="1029.5" x2="1206.8" y2="1100.8"/>
<line x1="1186.8" y1="1029.5" x2="1226.8" y2="1029.5" stroke-linecap="round"/>
<line x1="1186.8" y1="1100.8" x2="1226.8" y2="1100.8" stroke-linecap="round"/>
</g>
<g fill="#000">
<circle cx="1213.4" cy="992.4" r="7.1"/>
<circle cx="1226.7" cy="999.6" r="7.1"/>
<circle cx="1199.9" cy="1004.6" r="7.1"/>
<circle cx="1213.4" cy="1032.4" r="7.1"/>
<circle cx="1186.3" cy="1041.5" r="7.1"/>
<circle cx="1199.9" cy="1042.0" r="7.1"/>
<circle cx="1172.9" cy="1047.4" r="7.1"/>
<circle cx="1240.4" cy="1056.5" r="7.1"/>
<circle cx="1226.7" cy="1057.8" r="7.1"/>
<circle cx="1199.9" cy="1061.5" r="7.1"/>
<circle cx="1186.3" cy="1066.5" r="7.1"/>
<circle cx="1213.4" cy="1068.2" r="7.1"/>
<circle cx="1172.9" cy="1070.3" r="7.1"/>
<circle cx="1226.7" cy="1072.3" r="7.1"/>
<circle cx="1199.9" cy="1075.7" r="7.1"/>
<circle cx="1186.3" cy="1084.0" r="7.1"/>
<circle cx="1213.4" cy="1084.0" r="7.1"/>
<circle cx="1179.6" cy="1101.5" r="7.1"/>
<circle cx="1192.9" cy="1104.5" r="7.1"/>
<circle cx="1206.7" cy="1102.3" r="7.1"/>
<circle cx="1220.1" cy="1108.1" r="7.1"/>
<circle cx="1233.7" cy="1102.3" r="7.1"/>
<circle cx="1206.7" cy="1128.1" r="7.1"/>
</g>
<g stroke="#000" stroke-width="4.6" fill="none">
<line x1="1288.4" y1="1063.7" x2="1369.8" y2="1063.7"/>
<line x1="1329.1" y1="985.4" x2="1329.1" y2="1141.5"/>
<line x1="1309.1" y1="985.4" x2="1349.1" y2="985.4" stroke-linecap="round"/>
<line x1="1309.1" y1="1141.5" x2="1349.1" y2="1141.5" stroke-linecap="round"/>
</g>
<g fill="#000">
<circle cx="1328.9" cy="862.0" r="7.1"/>
<circle cx="1328.9" cy="900.8" r="7.1"/>
<circle cx="1328.9" cy="937.1" r="7.1"/>
<circle cx="1328.9" cy="997.4" r="7.1"/>
<circle cx="1328.9" cy="1016.5" r="7.1"/>
<circle cx="1306.6" cy="1037.4" r="7.1"/>
<circle cx="1351.0" cy="1038.5" r="7.1"/>
<circle cx="1317.7" cy="1044.4" r="7.1"/>
<circle cx="1340.2" cy="1050.2" r="7.1"/>
<circle cx="1328.9" cy="1057.3" r="7.1"/>
<circle cx="1323.2" cy="1079.0" r="7.1"/>
<circle cx="1334.4" cy="1079.0" r="7.1"/>
<circle cx="1317.7" cy="1101.1" r="7.1"/>
<circle cx="1340.2" cy="1103.6" r="7.1"/>
<circle cx="1306.6" cy="1110.6" r="7.1"/>
<circle cx="1340.2" cy="1122.0" r="7.1"/>
<circle cx="1306.6" cy="1127.0" r="7.1"/>
<circle cx="1351.0" cy="1129.8" r="7.1"/>
<circle cx="1295.6" cy="1132.3" r="7.1"/>
<circle cx="1317.7" cy="1131.5" r="7.1"/>
<circle cx="1328.9" cy="1130.6" r="7.1"/>
<circle cx="1362.7" cy="1134.8" r="7.1"/>
<circle cx="1340.2" cy="1138.1" r="7.1"/>
</g>
<text x="400.9" y="1413.4" text-anchor="middle" font-family="Liberation Sans, sans-serif" font-weight="bold"><tspan font-size="38" dy="0.00">Spatial CoV</tspan><tspan font-size="28" dy="13.70">CBF</tspan></text>
<g transform="translate(62.7,1813) rotate(-90) scale(0.9390,1)" text-anchor="start" stroke="#000" stroke-width="0.35" stroke-linejoin="round" font-family="Liberation Sans, sans-serif" font-weight="bold"><text x="-0.32"><tspan font-size="33.14" dy="0.00">Spatial CoV</tspan><tspan font-size="24.73" dy="9.30">CBF</tspan><tspan font-size="33.14" dy="-9.30"> (%)</tspan></text><text x="0.00"><tspan font-size="33.14" dy="0.00">Spatial CoV</tspan><tspan font-size="24.73" dy="9.30">CBF</tspan><tspan font-size="33.14" dy="-9.30"> (%)</tspan></text><text x="0.32"><tspan font-size="33.14" dy="0.00">Spatial CoV</tspan><tspan font-size="24.73" dy="9.30">CBF</tspan><tspan font-size="33.14" dy="-9.30"> (%)</tspan></text></g>
<g stroke="#000" stroke-width="4.7" fill="none">
<line x1="164.4" y1="1466.9" x2="164.4" y2="1879.3"/>
<line x1="144.2" y1="1469.2" x2="164.4" y2="1469.2"/>
<line x1="144.2" y1="1605.3" x2="164.4" y2="1605.3"/>
<line x1="144.2" y1="1741.1" x2="164.4" y2="1741.1"/>
<line x1="144.2" y1="1877.0" x2="164.4" y2="1877.0"/>
</g>
<g transform="translate(136.80,1482.8) scale(0.885,1)" font-size="38.5" text-anchor="end" letter-spacing="0.6" font-family="Liberation Sans, sans-serif" font-weight="bold"><text x="-0.56">0.8</text><text x="0.00">0.8</text><text x="0.56">0.8</text></g>
<g transform="translate(136.80,1618.9) scale(0.885,1)" font-size="38.5" text-anchor="end" letter-spacing="0.6" font-family="Liberation Sans, sans-serif" font-weight="bold"><text x="-0.56">0.6</text><text x="0.00">0.6</text><text x="0.56">0.6</text></g>
<g transform="translate(136.80,1754.7) scale(0.885,1)" font-size="38.5" text-anchor="end" letter-spacing="0.6" font-family="Liberation Sans, sans-serif" font-weight="bold"><text x="-0.56">0.4</text><text x="0.00">0.4</text><text x="0.56">0.4</text></g>
<g transform="translate(136.80,1890.6) scale(0.885,1)" font-size="38.5" text-anchor="end" letter-spacing="0.6" font-family="Liberation Sans, sans-serif" font-weight="bold"><text x="-0.56">0.2</text><text x="0.00">0.2</text><text x="0.56">0.2</text></g>
<g stroke="#000" stroke-width="5.2" fill="none">
<line x1="229.6" y1="1942.3" x2="636.8" y2="1942.3"/>
<line x1="310.8" y1="1942.3" x2="310.8" y2="1961.8" stroke-width="4.7"/>
<line x1="433.1" y1="1942.3" x2="433.1" y2="1961.8" stroke-width="4.7"/>
<line x1="555.4" y1="1942.3" x2="555.4" y2="1961.8" stroke-width="4.7"/>
</g>
<text x="310.8" y="1999.0" font-size="33" text-anchor="middle" font-family="Liberation Sans, sans-serif" font-weight="bold">ACA</text>
<text x="433.1" y="1999.0" font-size="33" text-anchor="middle" font-family="Liberation Sans, sans-serif" font-weight="bold">MCA</text>
<text x="555.4" y="1999.0" font-size="33" text-anchor="middle" font-family="Liberation Sans, sans-serif" font-weight="bold">PCA</text>
<g stroke="#000" stroke-width="4.6" fill="none">
<line x1="270.1" y1="1729.0" x2="351.4" y2="1729.0"/>
<line x1="310.8" y1="1661.1" x2="310.8" y2="1796.5"/>
<line x1="290.8" y1="1661.1" x2="330.8" y2="1661.1" stroke-linecap="round"/>
<line x1="290.8" y1="1796.5" x2="330.8" y2="1796.5" stroke-linecap="round"/>
</g>
<g fill="#000">
<circle cx="310.4" cy="1587.5" r="7.1"/>
<circle cx="310.4" cy="1621.1" r="7.1"/>
<circle cx="310.4" cy="1636.1" r="7.1"/>
<circle cx="321.9" cy="1658.3" r="7.1"/>
<circle cx="277.3" cy="1663.3" r="7.1"/>
<circle cx="277.3" cy="1678.2" r="7.1"/>
<circle cx="344.4" cy="1676.6" r="7.1"/>
<circle cx="299.4" cy="1688.6" r="7.1"/>
<circle cx="321.9" cy="1690.4" r="7.1"/>
<circle cx="321.9" cy="1725.4" r="7.1"/>
<circle cx="299.4" cy="1736.0" r="7.1"/>
<circle cx="344.4" cy="1752.4" r="7.1"/>
<circle cx="299.4" cy="1754.5" r="7.1"/>
<circle cx="277.3" cy="1758.5" r="7.1"/>
<circle cx="321.9" cy="1761.5" r="7.1"/>
<circle cx="344.4" cy="1776.2" r="7.1"/>
<circle cx="321.9" cy="1779.5" r="7.1"/>
<circle cx="277.3" cy="1783.5" r="7.1"/>
<circle cx="299.4" cy="1789.8" r="7.1"/>
<circle cx="321.9" cy="1794.8" r="7.1"/>
<circle cx="299.4" cy="1804.8" r="7.1"/>
<circle cx="321.9" cy="1817.0" r="7.1"/>
<circle cx="299.4" cy="1831.0" r="7.1"/>
</g>
<g stroke="#000" stroke-width="4.6" fill="none">
<line x1="392.4" y1="1718.5" x2="473.8" y2="1718.5"/>
<line x1="433.1" y1="1644.6" x2="433.1" y2="1792.8"/>
<line x1="413.1" y1="1644.6" x2="453.1" y2="1644.6" stroke-linecap="round"/>
<line x1="413.1" y1="1792.8" x2="453.1" y2="1792.8" stroke-linecap="round"/>
</g>
<g fill="#000">
<circle cx="433.1" cy="1527.1" r="7.1"/>
<circle cx="424.3" cy="1616.3" r="7.1"/>
<circle cx="441.4" cy="1622.7" r="7.1"/>
<circle cx="399.4" cy="1658.7" r="7.1"/>
<circle cx="466.7" cy="1661.1" r="7.1"/>
<circle cx="433.1" cy="1666.0" r="7.1"/>
<circle cx="416.1" cy="1672.7" r="7.1"/>
<circle cx="433.1" cy="1680.7" r="7.1"/>
<circle cx="449.7" cy="1699.0" r="7.1"/>
<circle cx="416.1" cy="1703.5" r="7.1"/>
<circle cx="433.1" cy="1713.7" r="7.1"/>
<circle cx="416.1" cy="1726.5" r="7.1"/>
<circle cx="449.7" cy="1739.0" r="7.1"/>
<circle cx="433.1" cy="1751.5" r="7.1"/>
<circle cx="416.1" cy="1754.3" r="7.1"/>
<circle cx="449.7" cy="1754.0" r="7.1"/>
<circle cx="433.1" cy="1766.1" r="7.1"/>
<circle cx="433.1" cy="1782.6" r="7.1"/>
<circle cx="416.1" cy="1801.5" r="7.1"/>
<circle cx="449.7" cy="1805.1" r="7.1"/>
<circle cx="433.1" cy="1808.4" r="7.1"/>
<circle cx="399.4" cy="1812.6" r="7.1"/>
<circle cx="466.7" cy="1813.4" r="7.1"/>
</g>
<g stroke="#000" stroke-width="4.6" fill="none">
<line x1="514.6" y1="1741.2" x2="596.0" y2="1741.2"/>
<line x1="555.3" y1="1677.7" x2="555.3" y2="1804.5"/>
<line x1="535.3" y1="1677.7" x2="575.3" y2="1677.7" stroke-linecap="round"/>
<line x1="535.3" y1="1804.5" x2="575.3" y2="1804.5" stroke-linecap="round"/>
</g>
<g fill="#000">
<circle cx="538.3" cy="1615.8" r="7.1"/>
<circle cx="555.2" cy="1629.1" r="7.1"/>
<circle cx="571.9" cy="1629.1" r="7.1"/>
<circle cx="563.6" cy="1650.8" r="7.1"/>
<circle cx="546.6" cy="1660.4" r="7.1"/>
<circle cx="555.2" cy="1674.9" r="7.1"/>
<circle cx="538.3" cy="1734.0" r="7.1"/>
<circle cx="571.9" cy="1738.5" r="7.1"/>
<circle cx="555.2" cy="1743.7" r="7.1"/>
<circle cx="588.9" cy="1755.4" r="7.1"/>
<circle cx="538.3" cy="1766.0" r="7.1"/>
<circle cx="555.2" cy="1766.5" r="7.1"/>
<circle cx="571.9" cy="1766.0" r="7.1"/>
<circle cx="521.9" cy="1777.3" r="7.1"/>
<circle cx="538.3" cy="1780.2" r="7.1"/>
<circle cx="571.9" cy="1782.0" r="7.1"/>
<circle cx="555.2" cy="1786.2" r="7.1"/>
<circle cx="588.9" cy="1787.3" r="7.1"/>
<circle cx="538.3" cy="1795.7" r="7.1"/>
<circle cx="571.9" cy="1797.3" r="7.1"/>
<circle cx="555.2" cy="1800.3" r="7.1"/>
<circle cx="521.9" cy="1802.8" r="7.1"/>
<circle cx="588.9" cy="1804.8" r="7.1"/>
</g>
<text x="1174" y="1409.7" text-anchor="middle" font-family="Liberation Sans, sans-serif" font-weight="bold"><tspan font-size="38" dy="0.00">ATA</tspan><tspan font-size="28" dy="13.00">vol</tspan></text>
<g transform="translate(879.6,1764) rotate(-90) scale(0.9390,1)" text-anchor="start" stroke="#000" stroke-width="0.35" stroke-linejoin="round" font-family="Liberation Sans, sans-serif" font-weight="bold"><text x="-0.32"><tspan font-size="33.14" dy="0.00">ATA</tspan><tspan font-size="24.2" dy="9.90">vol</tspan><tspan font-size="33.14" dy="-9.90"> (cm</tspan><tspan font-size="23.67" dy="-12.90">3</tspan><tspan font-size="33.14" dy="12.90">)</tspan></text><text x="0.00"><tspan font-size="33.14" dy="0.00">ATA</tspan><tspan font-size="24.2" dy="9.90">vol</tspan><tspan font-size="33.14" dy="-9.90"> (cm</tspan><tspan font-size="23.67" dy="-12.90">3</tspan><tspan font-size="33.14" dy="12.90">)</tspan></text><text x="0.32"><tspan font-size="33.14" dy="0.00">ATA</tspan><tspan font-size="24.2" dy="9.90">vol</tspan><tspan font-size="33.14" dy="-9.90"> (cm</tspan><tspan font-size="23.67" dy="-12.90">3</tspan><tspan font-size="33.14" dy="12.90">)</tspan></text></g>
<g stroke="#000" stroke-width="4.7" fill="none">
<line x1="938.6" y1="1466.9" x2="938.6" y2="1879.3"/>
<line x1="918.4" y1="1469.2" x2="938.6" y2="1469.2"/>
<line x1="918.4" y1="1605.2" x2="938.6" y2="1605.2"/>
<line x1="918.4" y1="1741.1" x2="938.6" y2="1741.1"/>
<line x1="918.4" y1="1877.0" x2="938.6" y2="1877.0"/>
</g>
<g transform="translate(911.00,1482.8) scale(0.885,1)" font-size="38.5" text-anchor="end" letter-spacing="0.6" font-family="Liberation Sans, sans-serif" font-weight="bold"><text x="-0.56">6</text><text x="0.00">6</text><text x="0.56">6</text></g>
<g transform="translate(911.00,1618.8) scale(0.885,1)" font-size="38.5" text-anchor="end" letter-spacing="0.6" font-family="Liberation Sans, sans-serif" font-weight="bold"><text x="-0.56">4</text><text x="0.00">4</text><text x="0.56">4</text></g>
<g transform="translate(911.00,1754.7) scale(0.885,1)" font-size="38.5" text-anchor="end" letter-spacing="0.6" font-family="Liberation Sans, sans-serif" font-weight="bold"><text x="-0.56">2</text><text x="0.00">2</text><text x="0.56">2</text></g>
<g transform="translate(911.00,1890.6) scale(0.885,1)" font-size="38.5" text-anchor="end" letter-spacing="0.6" font-family="Liberation Sans, sans-serif" font-weight="bold"><text x="-0.56">0</text><text x="0.00">0</text><text x="0.56">0</text></g>
<g stroke="#000" stroke-width="5.2" fill="none">
<line x1="1003.8" y1="1942.2" x2="1411.5" y2="1942.2"/>
<line x1="1085.2" y1="1942.2" x2="1085.2" y2="1961.7" stroke-width="4.7"/>
<line x1="1207.5" y1="1942.2" x2="1207.5" y2="1961.7" stroke-width="4.7"/>
<line x1="1329.5" y1="1942.2" x2="1329.5" y2="1961.7" stroke-width="4.7"/>
</g>
<text x="1085.2" y="1998.9" font-size="33" text-anchor="middle" font-family="Liberation Sans, sans-serif" font-weight="bold">ACA</text>
<text x="1207.5" y="1998.9" font-size="33" text-anchor="middle" font-family="Liberation Sans, sans-serif" font-weight="bold">MCA</text>
<text x="1329.5" y="1998.9" font-size="33" text-anchor="middle" font-family="Liberation Sans, sans-serif" font-weight="bold">PCA</text>
<line x1="1085.3" y1="1494.0" x2="1330.0" y2="1494.0" stroke="#000" stroke-width="2.3" stroke-linecap="round"/>
<path d="M1192.65 1469.90L1192.15 1463.70L1195.75 1463.70L1195.25 1469.90ZM1195.25 1471.50L1195.75 1477.70L1192.15 1477.70L1192.65 1471.50ZM1193.91 1469.17L1198.50 1465.60L1200.47 1468.61L1195.33 1471.35ZM1192.57 1471.35L1187.43 1468.61L1189.40 1465.60L1193.99 1469.17ZM1195.33 1470.05L1200.47 1472.79L1198.50 1475.80L1193.91 1472.23ZM1193.99 1472.23L1189.40 1475.80L1187.43 1472.79L1192.57 1470.05Z" fill="#000"/><circle cx="1193.95" cy="1470.70" r="2.2" fill="#000"/>
<path d="M1206.65 1469.90L1206.15 1463.70L1209.75 1463.70L1209.25 1469.90ZM1209.25 1471.50L1209.75 1477.70L1206.15 1477.70L1206.65 1471.50ZM1207.91 1469.17L1212.50 1465.60L1214.47 1468.61L1209.33 1471.35ZM1206.57 1471.35L1201.43 1468.61L1203.40 1465.60L1207.99 1469.17ZM1209.33 1470.05L1214.47 1472.79L1212.50 1475.80L1207.91 1472.23ZM1207.99 1472.23L1203.40 1475.80L1201.43 1472.79L1206.57 1470.05Z" fill="#000"/><circle cx="1207.95" cy="1470.70" r="2.2" fill="#000"/>
<path d="M1220.65 1469.90L1220.15 1463.70L1223.75 1463.70L1223.25 1469.90ZM1223.25 1471.50L1223.75 1477.70L1220.15 1477.70L1220.65 1471.50ZM1221.91 1469.17L1226.50 1465.60L1228.47 1468.61L1223.33 1471.35ZM1220.57 1471.35L1215.43 1468.61L1217.40 1465.60L1221.99 1469.17ZM1223.33 1470.05L1228.47 1472.79L1226.50 1475.80L1221.91 1472.23ZM1221.99 1472.23L1217.40 1475.80L1215.43 1472.79L1220.57 1470.05Z" fill="#000"/><circle cx="1221.95" cy="1470.70" r="2.2" fill="#000"/>
<line x1="1085.3" y1="1569.5" x2="1197.7" y2="1569.5" stroke="#000" stroke-width="2.3" stroke-linecap="round"/>
<path d="M1119.50 1546.00L1119.00 1539.80L1122.60 1539.80L1122.10 1546.00ZM1122.10 1547.60L1122.60 1553.80L1119.00 1553.80L1119.50 1547.60ZM1120.76 1545.27L1125.35 1541.70L1127.32 1544.71L1122.18 1547.45ZM1119.42 1547.45L1114.28 1544.71L1116.25 1541.70L1120.84 1545.27ZM1122.18 1546.15L1127.32 1548.89L1125.35 1551.90L1120.76 1548.33ZM1120.84 1548.33L1116.25 1551.90L1114.28 1548.89L1119.42 1546.15Z" fill="#000"/><circle cx="1120.80" cy="1546.80" r="2.2" fill="#000"/>
<path d="M1133.50 1546.00L1133.00 1539.80L1136.60 1539.80L1136.10 1546.00ZM1136.10 1547.60L1136.60 1553.80L1133.00 1553.80L1133.50 1547.60ZM1134.76 1545.27L1139.35 1541.70L1141.32 1544.71L1136.18 1547.45ZM1133.42 1547.45L1128.28 1544.71L1130.25 1541.70L1134.84 1545.27ZM1136.18 1546.15L1141.32 1548.89L1139.35 1551.90L1134.76 1548.33ZM1134.84 1548.33L1130.25 1551.90L1128.28 1548.89L1133.42 1546.15Z" fill="#000"/><circle cx="1134.80" cy="1546.80" r="2.2" fill="#000"/>
<path d="M1147.50 1546.00L1147.00 1539.80L1150.60 1539.80L1150.10 1546.00ZM1150.10 1547.60L1150.60 1553.80L1147.00 1553.80L1147.50 1547.60ZM1148.76 1545.27L1153.35 1541.70L1155.32 1544.71L1150.18 1547.45ZM1147.42 1547.45L1142.28 1544.71L1144.25 1541.70L1148.84 1545.27ZM1150.18 1546.15L1155.32 1548.89L1153.35 1551.90L1148.76 1548.33ZM1148.84 1548.33L1144.25 1551.90L1142.28 1548.89L1147.42 1546.15Z" fill="#000"/><circle cx="1148.80" cy="1546.80" r="2.2" fill="#000"/>
<path d="M1161.50 1546.00L1161.00 1539.80L1164.60 1539.80L1164.10 1546.00ZM1164.10 1547.60L1164.60 1553.80L1161.00 1553.80L1161.50 1547.60ZM1162.76 1545.27L1167.35 1541.70L1169.32 1544.71L1164.18 1547.45ZM1161.42 1547.45L1156.28 1544.71L1158.25 1541.70L1162.84 1545.27ZM1164.18 1546.15L1169.32 1548.89L1167.35 1551.90L1162.76 1548.33ZM1162.84 1548.33L1158.25 1551.90L1156.28 1548.89L1161.42 1546.15Z" fill="#000"/><circle cx="1162.80" cy="1546.80" r="2.2" fill="#000"/>
<line x1="1217.2" y1="1569.5" x2="1330.0" y2="1569.5" stroke="#000" stroke-width="2.3" stroke-linecap="round"/>
<path d="M1251.60 1546.00L1251.10 1539.80L1254.70 1539.80L1254.20 1546.00ZM1254.20 1547.60L1254.70 1553.80L1251.10 1553.80L1251.60 1547.60ZM1252.86 1545.27L1257.45 1541.70L1259.42 1544.71L1254.28 1547.45ZM1251.52 1547.45L1246.38 1544.71L1248.35 1541.70L1252.94 1545.27ZM1254.28 1546.15L1259.42 1548.89L1257.45 1551.90L1252.86 1548.33ZM1252.94 1548.33L1248.35 1551.90L1246.38 1548.89L1251.52 1546.15Z" fill="#000"/><circle cx="1252.90" cy="1546.80" r="2.2" fill="#000"/>
<path d="M1265.60 1546.00L1265.10 1539.80L1268.70 1539.80L1268.20 1546.00ZM1268.20 1547.60L1268.70 1553.80L1265.10 1553.80L1265.60 1547.60ZM1266.86 1545.27L1271.45 1541.70L1273.42 1544.71L1268.28 1547.45ZM1265.52 1547.45L1260.38 1544.71L1262.35 1541.70L1266.94 1545.27ZM1268.28 1546.15L1273.42 1548.89L1271.45 1551.90L1266.86 1548.33ZM1266.94 1548.33L1262.35 1551.90L1260.38 1548.89L1265.52 1546.15Z" fill="#000"/><circle cx="1266.90" cy="1546.80" r="2.2" fill="#000"/>
<path d="M1279.60 1546.00L1279.10 1539.80L1282.70 1539.80L1282.20 1546.00ZM1282.20 1547.60L1282.70 1553.80L1279.10 1553.80L1279.60 1547.60ZM1280.86 1545.27L1285.45 1541.70L1287.42 1544.71L1282.28 1547.45ZM1279.52 1547.45L1274.38 1544.71L1276.35 1541.70L1280.94 1545.27ZM1282.28 1546.15L1287.42 1548.89L1285.45 1551.90L1280.86 1548.33ZM1280.94 1548.33L1276.35 1551.90L1274.38 1548.89L1279.52 1546.15Z" fill="#000"/><circle cx="1280.90" cy="1546.80" r="2.2" fill="#000"/>
<path d="M1293.60 1546.00L1293.10 1539.80L1296.70 1539.80L1296.20 1546.00ZM1296.20 1547.60L1296.70 1553.80L1293.10 1553.80L1293.60 1547.60ZM1294.86 1545.27L1299.45 1541.70L1301.42 1544.71L1296.28 1547.45ZM1293.52 1547.45L1288.38 1544.71L1290.35 1541.70L1294.94 1545.27ZM1296.28 1546.15L1301.42 1548.89L1299.45 1551.90L1294.86 1548.33ZM1294.94 1548.33L1290.35 1551.90L1288.38 1548.89L1293.52 1546.15Z" fill="#000"/><circle cx="1294.90" cy="1546.80" r="2.2" fill="#000"/>
<g stroke="#000" stroke-width="4.6" fill="none">
<line x1="1044.5" y1="1812.8" x2="1125.9" y2="1812.8"/>
<line x1="1085.2" y1="1780.7" x2="1085.2" y2="1844.4"/>
<line x1="1065.2" y1="1780.7" x2="1105.2" y2="1780.7" stroke-linecap="round"/>
<line x1="1065.2" y1="1844.4" x2="1105.2" y2="1844.4" stroke-linecap="round"/>
</g>
<g fill="#000">
<circle cx="1079.7" cy="1743.4" r="7.1"/>
<circle cx="1089.9" cy="1750.8" r="7.1"/>
<circle cx="1070.2" cy="1772.8" r="7.1"/>
<circle cx="1080.0" cy="1777.9" r="7.1"/>
<circle cx="1089.9" cy="1779.5" r="7.1"/>
<circle cx="1099.2" cy="1789.7" r="7.1"/>
<circle cx="1089.9" cy="1794.2" r="7.1"/>
<circle cx="1080.0" cy="1804.9" r="7.1"/>
<circle cx="1099.2" cy="1805.5" r="7.1"/>
<circle cx="1051.0" cy="1814.5" r="7.1"/>
<circle cx="1119.0" cy="1821.3" r="7.1"/>
<circle cx="1109.4" cy="1824.7" r="7.1"/>
<circle cx="1070.2" cy="1823.6" r="7.1"/>
<circle cx="1060.9" cy="1824.7" r="7.1"/>
<circle cx="1099.2" cy="1825.2" r="7.1"/>
<circle cx="1080.0" cy="1825.8" r="7.1"/>
<circle cx="1051.0" cy="1829.8" r="7.1"/>
<circle cx="1089.9" cy="1831.5" r="7.1"/>
<circle cx="1070.2" cy="1842.7" r="7.1"/>
<circle cx="1080.0" cy="1848.9" r="7.1"/>
<circle cx="1099.2" cy="1852.3" r="7.1"/>
<circle cx="1089.9" cy="1855.1" r="7.1"/>
<circle cx="1070.2" cy="1858.0" r="7.1"/>
</g>
<g stroke="#000" stroke-width="4.6" fill="none">
<line x1="1166.8" y1="1726.8" x2="1248.2" y2="1726.8"/>
<line x1="1207.5" y1="1667.2" x2="1207.5" y2="1785.8"/>
<line x1="1187.5" y1="1667.2" x2="1227.5" y2="1667.2" stroke-linecap="round"/>
<line x1="1187.5" y1="1785.8" x2="1227.5" y2="1785.8" stroke-linecap="round"/>
</g>
<g fill="#000">
<circle cx="1207.5" cy="1625.5" r="7.1"/>
<circle cx="1207.5" cy="1659.6" r="7.1"/>
<circle cx="1218.6" cy="1661.0" r="7.1"/>
<circle cx="1195.8" cy="1670.4" r="7.1"/>
<circle cx="1207.5" cy="1673.8" r="7.1"/>
<circle cx="1218.6" cy="1678.5" r="7.1"/>
<circle cx="1173.8" cy="1682.2" r="7.1"/>
<circle cx="1241.2" cy="1683.9" r="7.1"/>
<circle cx="1195.8" cy="1691.8" r="7.1"/>
<circle cx="1207.5" cy="1691.8" r="7.1"/>
<circle cx="1218.6" cy="1692.6" r="7.1"/>
<circle cx="1229.9" cy="1691.8" r="7.1"/>
<circle cx="1218.6" cy="1741.2" r="7.1"/>
<circle cx="1195.8" cy="1751.6" r="7.1"/>
<circle cx="1207.5" cy="1751.3" r="7.1"/>
<circle cx="1207.5" cy="1767.1" r="7.1"/>
<circle cx="1195.8" cy="1782.6" r="7.1"/>
<circle cx="1229.9" cy="1791.1" r="7.1"/>
<circle cx="1218.6" cy="1796.0" r="7.1"/>
<circle cx="1195.8" cy="1798.4" r="7.1"/>
<circle cx="1207.5" cy="1809.7" r="7.1"/>
<circle cx="1218.6" cy="1809.7" r="7.1"/>
<circle cx="1195.8" cy="1814.2" r="7.1"/>
</g>
<g stroke="#000" stroke-width="4.6" fill="none">
<line x1="1288.8" y1="1839.9" x2="1370.2" y2="1839.9"/>
<line x1="1329.5" y1="1821.0" x2="1329.5" y2="1859.1"/>
<line x1="1309.5" y1="1821.0" x2="1349.5" y2="1821.0" stroke-linecap="round"/>
<line x1="1309.5" y1="1859.1" x2="1349.5" y2="1859.1" stroke-linecap="round"/>
</g>
<g fill="#000">
<circle cx="1305.4" cy="1806.6" r="7.1"/>
<circle cx="1324.6" cy="1802.9" r="7.1"/>
<circle cx="1363.3" cy="1819.9" r="7.1"/>
<circle cx="1334.4" cy="1821.0" r="7.1"/>
<circle cx="1353.7" cy="1824.7" r="7.1"/>
<circle cx="1324.6" cy="1825.0" r="7.1"/>
<circle cx="1344.0" cy="1826.9" r="7.1"/>
<circle cx="1305.4" cy="1828.1" r="7.1"/>
<circle cx="1295.6" cy="1839.9" r="7.1"/>
<circle cx="1315.0" cy="1839.9" r="7.1"/>
<circle cx="1324.6" cy="1839.9" r="7.1"/>
<circle cx="1334.4" cy="1837.1" r="7.1"/>
<circle cx="1305.4" cy="1843.3" r="7.1"/>
<circle cx="1353.7" cy="1841.9" r="7.1"/>
<circle cx="1363.5" cy="1843.5" r="7.1"/>
<circle cx="1334.4" cy="1850.6" r="7.1"/>
<circle cx="1315.0" cy="1855.7" r="7.1"/>
<circle cx="1353.7" cy="1857.4" r="7.1"/>
<circle cx="1305.4" cy="1859.3" r="7.1"/>
<circle cx="1324.6" cy="1863.6" r="7.1"/>
<circle cx="1344.0" cy="1865.3" r="7.1"/>
<circle cx="1334.4" cy="1868.7" r="7.1"/>
<circle cx="1315.0" cy="1874.3" r="7.1"/>
</g>
</svg>
</body></html>
